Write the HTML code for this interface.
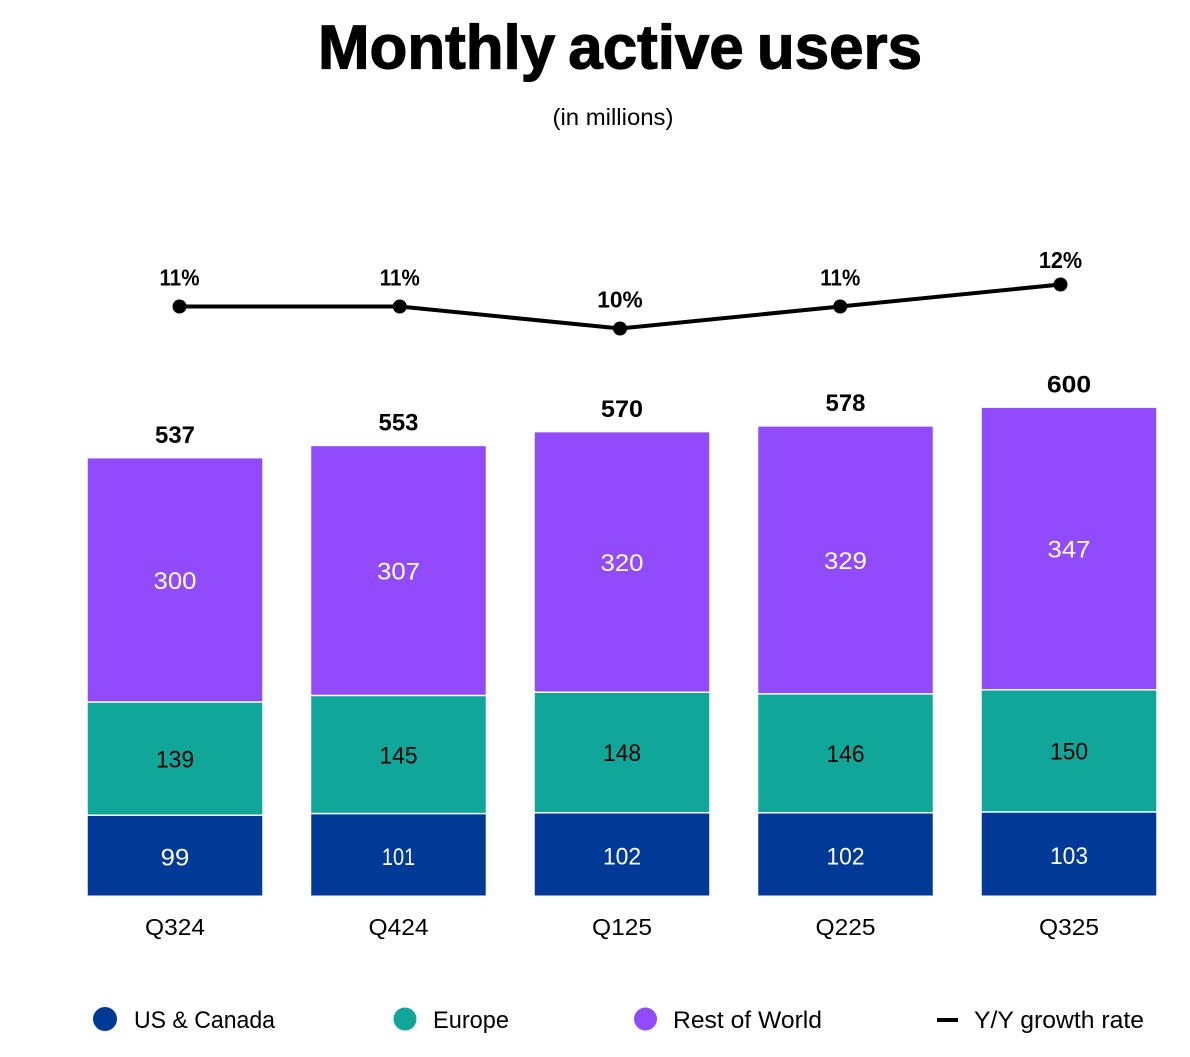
<!DOCTYPE html>
<html lang="en">
<head>
<meta charset="utf-8">
<title>Monthly active users</title>
<style>
html,body{margin:0;padding:0;background:#fff;width:1190px;height:1057px;overflow:hidden}
svg{display:block;font-family:"Liberation Sans",sans-serif}
text{fill:#000}
</style>
</head>
<body>
<svg id="chart" width="1190" height="1057" viewBox="0 0 1190 1057" xmlns="http://www.w3.org/2000/svg">
  <text x="620" y="68.5" text-anchor="middle" font-size="62" font-weight="700" word-spacing="-4" textLength="604" lengthAdjust="spacingAndGlyphs" stroke="#000" stroke-width="1.2">Monthly active users</text>
  <text x="613" y="125" text-anchor="middle" font-size="23" textLength="121" lengthAdjust="spacingAndGlyphs">(in millions)</text>
  <g id="bars"></g>
  <g id="growth"></g>
  <g>
    <g>
      <circle cx="105" cy="1019" r="12" fill="#003a96"/>
      <text x="134" y="1028" font-size="24" textLength="141" lengthAdjust="spacingAndGlyphs">US &amp; Canada</text>
    </g>
    <g>
      <circle cx="405" cy="1019" r="11.5" fill="#10a79a"/>
      <text x="433" y="1028" font-size="24" textLength="76" lengthAdjust="spacingAndGlyphs">Europe</text>
    </g>
    <g>
      <circle cx="645.5" cy="1019" r="11.5" fill="#914bfb"/>
      <text x="673" y="1028" font-size="24" textLength="149" lengthAdjust="spacingAndGlyphs">Rest of World</text>
    </g>
    <g>
      <rect x="937" y="1018" width="21" height="4" fill="#000"/>
      <text x="974" y="1028" font-size="24" textLength="170" lengthAdjust="spacingAndGlyphs">Y/Y growth rate</text>
    </g>
  </g>
</svg>
<script>
const categories = ['Q324', 'Q424', 'Q125', 'Q225', 'Q325'];
const usCanada = [99, 101, 102, 102, 103];
const europe = [139, 145, 148, 146, 150];
const restOfWorld = [300, 307, 320, 329, 347];
const totals = [537, 553, 570, 578, 600];
const growth = [11, 11, 10, 11, 12];

const NS = 'http://www.w3.org/2000/svg';
const barsGroup = document.getElementById('bars');
const growthGroup = document.getElementById('growth');
const BASE_Y = 895.5;

function yValue(v) { return v === 0 ? BASE_Y : 896.6 - v * 0.8145; }
function xBar(i) { return 175 + i * 223.5; }
function xGrowth(i) { return 179.5 + i * 220.25; }
function yGrowth(v) { return 306.5 - (v - 11) * 22; }

function regularWidth(str) {
  return str.split('').reduce(function (w, ch) { return w + (ch === '1' ? 9.5 : 14.3); }, 0);
}
function boldWidth(str) {
  return str.split('').reduce(function (w, ch) {
    if (ch === '1') return w + 10;
    if (ch === '0') return w + 15.5;
    if (ch === '%') return w + 20;
    return w + 13.3;
  }, 0);
}

function makeText(parent, x, y, str, size, weight, fill, length) {
  const t = document.createElementNS(NS, 'text');
  t.setAttribute('x', x);
  t.setAttribute('y', y);
  t.setAttribute('text-anchor', 'middle');
  t.setAttribute('font-size', size);
  t.setAttribute('font-weight', weight);
  t.setAttribute('textLength', length);
  t.setAttribute('lengthAdjust', 'spacingAndGlyphs');
  t.style.fill = fill;
  t.textContent = str;
  parent.appendChild(t);
  return t;
}

const seriesDefs = [
  { key: 'us-canada', values: usCanada, color: '#003a96', text: '#ffffff', labelShift: 10 },
  { key: 'europe', values: europe, color: '#10a79a', text: '#000000', labelShift: 8 },
  { key: 'rest-of-world', values: restOfWorld, color: '#914bfb', text: '#ffffff', labelShift: 8.5 }
];

categories.forEach(function (cat, i) {
  let cumulative = 0;
  const cx = xBar(i);
  seriesDefs.forEach(function (s) {
    const v = s.values[i];
    const yBottom = yValue(cumulative);
    const yTop = yValue(cumulative + v);
    const r = document.createElementNS(NS, 'rect');
    
    
    r.setAttribute('x', cx - 87.25);
    r.setAttribute('y', yTop);
    r.setAttribute('width', 174.5);
    r.setAttribute('height', Math.max(0, yBottom - yTop - (cumulative > 0 ? 1.5 : 0)));
    r.setAttribute('fill', s.color);
    barsGroup.appendChild(r);

    const label = makeText(barsGroup, cx, (yTop + yBottom) / 2 + s.labelShift, String(v), 24, 400, s.text, regularWidth(String(v)));
    
    
    cumulative += v;
  });

  const totalLabel = makeText(barsGroup, cx, yValue(cumulative) - 15.5, String(totals[i]), 24, 700, '#000000', boldWidth(String(totals[i])));
  
  

  const catLabel = makeText(barsGroup, cx, 935, cat, 23.5, 400, '#000000', 60);
  
  
});

const line = document.createElementNS(NS, 'polyline');


line.setAttribute('points', growth.map(function (v, i) { return xGrowth(i) + ',' + yGrowth(v); }).join(' '));
line.setAttribute('fill', 'none');
line.setAttribute('stroke', '#000');
line.setAttribute('stroke-width', 4);
growthGroup.appendChild(line);

growth.forEach(function (v, i) {
  const c = document.createElementNS(NS, 'circle');
  
  
  c.setAttribute('cx', xGrowth(i));
  c.setAttribute('cy', yGrowth(v));
  c.setAttribute('r', 7);
  c.setAttribute('fill', '#000');
  growthGroup.appendChild(c);

  const offset = i === growth.length - 1 ? 16.5 : 21;
  const t = makeText(growthGroup, xGrowth(i), yGrowth(v) - offset, v + '%', 23.5, 700, '#000000', boldWidth(v + '%'));
  
  
});
</script>
</body>
</html>
